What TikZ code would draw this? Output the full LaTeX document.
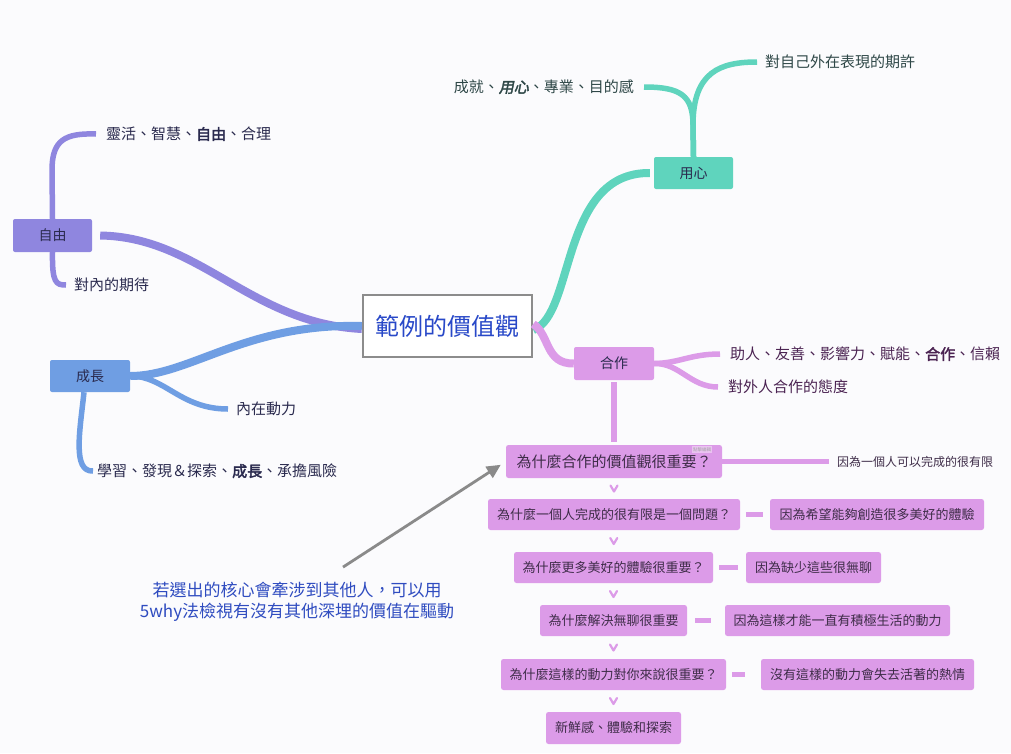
\documentclass[tikz,border=0pt]{standalone}
\usepackage{fontspec}
\setmainfont[AutoFakeBold=2.5,AutoFakeSlant=0.2]{Noto Sans CJK TC}
\usetikzlibrary{arrows.meta}
\definecolor{bgc}{HTML}{FBFBFD}
\definecolor{tealc}{HTML}{5FD4BD}
\definecolor{purpc}{HTML}{8F86DF}
\definecolor{bluec}{HTML}{6F9EE3}
\definecolor{pinkc}{HTML}{DC9BE8}
\definecolor{grayb}{HTML}{8C8C8C}
\definecolor{cblue}{HTML}{2848C8}
\definecolor{noteblue}{HTML}{2F4CC0}
\definecolor{navy}{HTML}{2A2A4E}
\definecolor{tealtext}{HTML}{2E4747}
\definecolor{pinktext}{HTML}{4B2352}
\definecolor{boxtext}{HTML}{3E2C48}
\definecolor{arrowgray}{HTML}{8A8A8A}
\tikzset{
  chev/.pic={\draw[pinkc, line width=2.2pt, line cap=round, line join=round] (-3.5,-3) -- (0,3) -- (3.5,-3);},
}
\begin{document}
\begin{tikzpicture}[x=1pt,y=-1pt,
  mainbox/.style={draw=grayb, line width=2.5pt, fill=white, minimum width=169pt, minimum height=62pt, inner sep=0pt, font=\fontsize{24}{27}\selectfont, text=cblue},
  topic/.style={rounded corners=2pt, inner sep=0pt, minimum height=33pt, minimum width=80pt, font=\fontsize{14}{16}\selectfont, text=navy},
  qbox/.style={fill=pinkc, rounded corners=2.5pt, inner sep=0pt, minimum height=31pt, font=\fontsize{13}{15}\selectfont, text=boxtext},
  lab/.style={inner sep=0pt, font=\fontsize{15}{18}\selectfont},
  branch/.style={line width=8pt},
  subbranch/.style={line width=5.5pt},
  bar/.style={pinkc, line width=4.5pt},
]
\fill[bgc] (0,0) rectangle (1011,753);
\useasboundingbox (0,0) rectangle (1011,753);

% nodes
\node[mainbox] (c) at (447.5,326) {範例的價值觀};
\node[topic, fill=tealc, minimum width=79pt, minimum height=32pt] (yx) at (693.5,173) {用心};
\node[topic, fill=purpc, minimum width=79pt] (zy) at (52.5,235.5) {自由};
\node[topic, fill=bluec, minimum width=80pt, minimum height=32pt] (cz) at (90,376) {成長};
\node[topic, fill=pinkc, minimum width=80pt] (hz) at (614,363.5) {合作};

\node[lab, text=navy, anchor=west] (lz1) at (106,134) {靈活、智慧、\textbf{自由}、合理};
\node[lab, text=navy, anchor=west] (lz2) at (74,285) {對內的期待};
\node[lab, text=navy, anchor=west] (lc1) at (236,409) {內在動力};
\node[lab, text=navy, anchor=west] (lc2) at (97,471) {學習、發現＆探索、\textbf{成長}、承擔風險};
\node[lab, text=tealtext, anchor=east] (ly1) at (634,87) {成就、\textbf{\itshape 用心}、專業、目的感};
\node[lab, text=tealtext, anchor=west] (ly2) at (765,62) {對自己外在表現的期許};
\node[lab, text=pinktext, anchor=west] (lh1) at (730,354) {助人、友善、影響力、賦能、\textbf{合作}、信賴};
\node[lab, text=pinktext, anchor=west] (lh2) at (728,387) {對外人合作的態度};

\node[qbox, minimum width=216pt, minimum height=33pt, font=\fontsize{15}{17}\selectfont] (q1) at (614,461.5) {為什麼合作的價值觀很重要？};
\node[inner sep=0pt, font=\fontsize{12}{14}\selectfont, text=boxtext, anchor=west] (a1) at (837,461.5) {因為一個人可以完成的很有限};
\node[qbox, minimum width=252pt] (q2) at (614,514.5) {為什麼一個人完成的很有限是一個問題？};
\node[qbox, minimum width=214pt] (a2) at (877,514.5) {因為希望能夠創造很多美好的體驗};
\node[qbox, minimum width=199pt] (q3) at (613.5,567.5) {為什麼更多美好的體驗很重要？};
\node[qbox, minimum width=135pt] (a3) at (813.5,567.5) {因為缺少這些很無聊};
\node[qbox, minimum width=147pt] (q4) at (613.5,620.5) {為什麼解決無聊很重要};
\node[qbox, minimum width=225pt] (a4) at (837.5,620.5) {因為這樣才能一直有積極生活的動力};
\node[qbox, minimum width=225pt] (q5) at (613.5,674.5) {為什麼這樣的動力對你來說很重要？};
\node[qbox, minimum width=213pt] (a5) at (867.5,674.5) {沒有這樣的動力會失去活著的熱情};
\node[qbox, minimum width=135pt, minimum height=32pt] (q6) at (613.5,728) {新鮮感、體驗和探索};

\node[fill=pinkc!60!white, text=gray!70, inner sep=1pt, font=\fontsize{4.5}{5}\selectfont] (tag) at (702,449.5) {點擊編輯};

\node[align=center, text=noteblue, font=\fontsize{17}{21}\selectfont, inner sep=0pt] (note) at (297,602)
  {若選出的核心會牽涉到其他人，可以用\\5why法檢視有沒有其他深埋的價值在驅動};

% main branches
\draw[purpc, branch] ([yshift=-3pt]c.west) .. controls (250,323) and (200,237) .. ([xshift=8pt]zy.east);
\draw[bluec, branch] ([yshift=0pt]c.west) .. controls (245,323) and (190,376) .. ([xshift=0pt]cz.east);
\draw[tealc, branch] ([yshift=-4pt]c.east) .. controls (575,315) and (560,172) .. ([xshift=-4pt]yx.west);
\draw[pinkc, branch] ([yshift=2pt]c.east) .. controls (550,335) and (545,364) .. (hz.west);

% sub branches
\draw[purpc, subbranch] (zy.north) -- (52,170) .. controls (52,140) and (65,133) .. ([xshift=-10pt]lz1.west);
\draw[purpc, subbranch] (zy.south) .. controls (52,283) and (56,285) .. ([xshift=-8pt]lz2.west);
\draw[bluec, subbranch] (cz.east) .. controls (165,376) and (180,409) .. ([xshift=-8pt]lc1.west);
\draw[bluec, subbranch] ([xshift=-6pt]cz.south) .. controls (80,430) and (72,472) .. ([xshift=-4pt]lc2.west);
\draw[tealc, subbranch] (yx.north) -- (693,125) .. controls (693,95) and (680,87) .. ([xshift=10pt]ly1.east);
\draw[tealc, subbranch] (yx.north) -- (693,125) .. controls (693,72) and (720,62) .. ([xshift=-8pt]ly2.west);
\draw[pinkc, subbranch] (hz.east) .. controls (680,363) and (690,354) .. ([xshift=-10pt]lh1.west);
\draw[pinkc, subbranch] (hz.east) .. controls (680,363) and (690,387) .. ([xshift=-10pt]lh2.west);
\draw[pinkc, line width=6pt, shorten <=2pt, shorten >=3pt] (hz.south) -- (q1.north);
\draw[pinkc, line width=5pt, shorten >=8pt] (q1.east) -- (a1.west);

% why chain
\path (q1.south) -- (q2.north) pic[pos=0.5]{chev};
\path (q2.south) -- (q3.north) pic[pos=0.5]{chev};
\path (q3.south) -- (q4.north) pic[pos=0.5]{chev};
\path (q4.south) -- (q5.north) pic[pos=0.5]{chev};
\path (q5.south) -- (q6.north) pic[pos=0.5]{chev};
\draw[bar, shorten <=6pt, shorten >=7pt] (q2.east) -- (a2.west);
\draw[bar, shorten <=6pt, shorten >=8pt] (q3.east) -- (a3.west);
\draw[bar, shorten <=8pt, shorten >=14pt] (q4.east) -- (a4.west);
\draw[bar, shorten <=6pt, shorten >=16pt] (q5.east) -- (a5.west);

% annotation arrow
\draw[arrowgray, line width=2.8pt, shorten >=6pt, -{Triangle[length=14pt,width=13pt]}] ([shift={(46,-15)}]note.north) -- (q1.west);
\end{tikzpicture}
\end{document}
